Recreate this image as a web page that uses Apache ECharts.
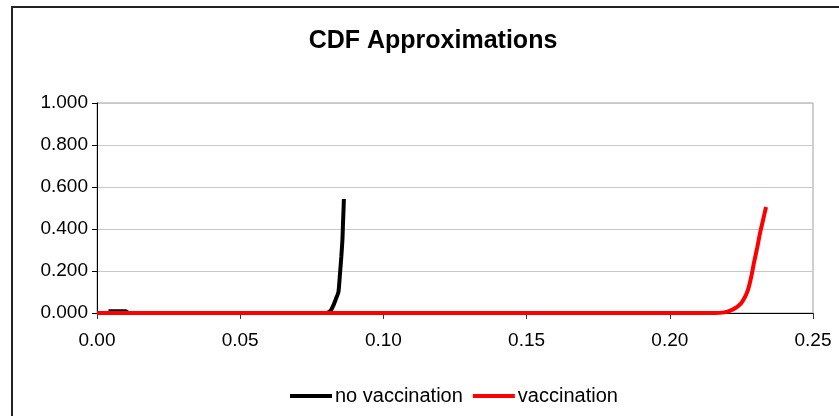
<!DOCTYPE html>
<html>
<head>
<meta charset="utf-8">
<script src="https://cdn.jsdelivr.net/npm/echarts@6/dist/echarts.min.js"></script>
<style>
  html, body { margin: 0; padding: 0; background: #fff; }
  #chart { width: 839px; height: 416px; }
</style>
</head>
<body>
<div id="chart"></div>
<script>
// Empirical CDF approximations of outbreak size
const noVacX = [0.004, 0.010, 0.011, 0.080, 0.0815, 0.0825, 0.0835, 0.0843, 0.0848, 0.0853, 0.0857, 0.0859, 0.0861, 0.0862];
const noVacY = [0.008, 0.008, 0.000, 0.000, 0.010, 0.035, 0.070, 0.100, 0.180, 0.267, 0.350, 0.430, 0.500, 0.543];

const vacX = [0.000, 0.100, 0.200, 0.216, 0.219, 0.2205, 0.2225, 0.2248, 0.2262, 0.2273, 0.2284, 0.2294, 0.2305, 0.2315, 0.2326, 0.2336];
const vacY = [0.000, 0.000, 0.000, 0.000, 0.003, 0.008, 0.020, 0.045, 0.075, 0.110, 0.170, 0.240, 0.310, 0.380, 0.445, 0.505];

const xTicks = { min: 0, max: 0.25, step: 0.05 };
const yTicks = { min: 0, max: 1, step: 0.2 };

const seriesNames = ['no vaccination', 'vaccination'];

const pairs = (xs, ys) => xs.map((x, i) => [x, ys[i]]);

const chart = echarts.init(document.getElementById('chart'), null, { renderer: 'canvas' });
const font = 'Liberation Sans, Arial, sans-serif';

chart.setOption({
  backgroundColor: '#ffffff',
  animation: false,
  graphic: [{
    type: 'rect',
    shape: { x: 12, y: 7, width: 900, height: 500 },
    style: { fill: 'none', stroke: '#222', lineWidth: 2 },
    silent: true
  }],
  title: {
    text: 'CDF Approximations',
    left: 428, top: 24,
    textAlign: 'center',
    textStyle: { fontFamily: font, fontSize: 25, fontWeight: 'bold', color: '#000' }
  },
  legend: {
    data: seriesNames,
    bottom: 5,
    left: 285,
    itemWidth: 42,
    itemHeight: 4,
    itemGap: 10,
    icon: 'rect',
    textStyle: { fontFamily: font, fontSize: 20, color: '#000', padding: [0, 0, 0, -2] }
  },
  grid: {
    left: 97, right: 26, top: 103, bottom: 103,
    show: true, borderColor: '#a0a0a0', borderWidth: 1
  },
  xAxis: {
    type: 'value',
    min: xTicks.min, max: xTicks.max, interval: xTicks.step,
    axisLine: { show: true, lineStyle: { color: '#000', width: 1 } },
    axisTick: { show: true, length: 6, lineStyle: { color: '#333' } },
    splitLine: { show: false },
    axisLabel: {
      fontFamily: font, fontSize: 19, color: '#000', margin: 18,
      formatter: v => v.toFixed(2)
    }
  },
  yAxis: {
    type: 'value',
    min: yTicks.min, max: yTicks.max, interval: yTicks.step,
    axisLine: { show: true, lineStyle: { color: '#000', width: 1 } },
    axisTick: { show: true, length: 5, lineStyle: { color: '#000' } },
    splitLine: { show: true, lineStyle: { color: '#c8c8c8', width: 1 } },
    axisLabel: {
      fontFamily: font, fontSize: 19, color: '#000', margin: 9,
      formatter: v => v.toFixed(3)
    }
  },
  series: [
    {
      name: seriesNames[0], type: 'line', data: pairs(noVacX, noVacY),
      symbol: 'none', smooth: 0.2,
      lineStyle: { color: '#000', width: 4 }, itemStyle: { color: '#000' }
    },
    {
      name: seriesNames[1], type: 'line', data: pairs(vacX, vacY),
      symbol: 'none', smooth: 0.3,
      lineStyle: { color: '#ff0000', width: 4 }, itemStyle: { color: '#ff0000' }
    }
  ]
});
</script>
</body>
</html>
